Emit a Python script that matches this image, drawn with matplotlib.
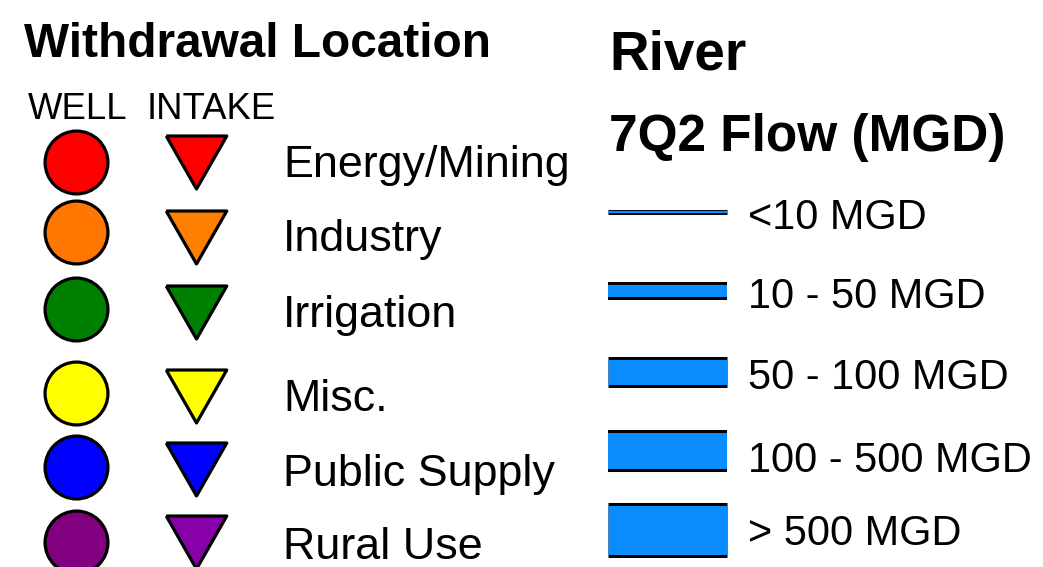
import matplotlib
matplotlib.use("Agg")
import matplotlib.pyplot as plt

plt.rcParams["font.family"] = ["Liberation Sans", "DejaVu Sans"]

# === Datos de la leyenda ===
usos = ["Energy/Mining", "Industry", "Irrigation", "Misc.", "Public Supply", "Rural Use"]
colores_pozo = ["#ff0000", "#ff7700", "#008000", "#ffff00", "#0000ff", "#800080"]
colores_toma = ["#ff0000", "#ff8000", "#008000", "#ffff00", "#0000ff", "#8800a8"]

clases_caudal = ["<10 MGD", "10 - 50 MGD", "50 - 100 MGD", "100 - 500 MGD", "> 500 MGD"]
grosor_rio = [5, 18, 31, 42, 55]  # alto de cada linea en pixeles

# === Posiciones (pixeles) ===
y_pozo = [162, 232, 309, 393, 467, 542]
y_toma = [162, 237, 312, 396, 469, 542]
y_texto_uso = [177, 251, 327, 411, 486, 559]
y_rio = [211.5, 291, 371.5, 451, 530]
y_texto_rio = [229, 308, 389, 472, 545]

AZUL_RIO = "#0b8cff"
PX = 0.72  # puntos por pixel a 100 dpi

fig = plt.figure(figsize=(10.43, 5.67), dpi=100)
ax = fig.add_axes([0, 0, 1, 1])
ax.set_xlim(0, 1043)
ax.set_ylim(567, 0)
ax.axis("off")

# Titulos
ax.text(24, 57, "Withdrawal Location", fontsize=34.4, fontweight="bold", va="baseline")
ax.text(28, 119, "WELL", fontsize=26.3, va="baseline")
ax.text(147, 119, "INTAKE", fontsize=26.3, va="baseline")
ax.text(609, 70, "River", fontsize=39.5, fontweight="bold", va="baseline")
ax.text(609, 151, "7Q2 Flow (MGD)", fontsize=37, fontweight="bold", va="baseline")

# Marcadores de pozo y toma
triangulo = [(-1, 0.875), (1, 0.875), (0, -0.875), (-1, 0.875)]
for i, uso in enumerate(usos):
    ax.scatter([76], [y_pozo[i]], s=2050, marker="o", color=colores_pozo[i],
               edgecolors="black", linewidths=2.3, zorder=3)
    ax.scatter([196], [y_toma[i]], s=1900, marker=triangulo, color=colores_toma[i],
               edgecolors="black", linewidths=2.3, zorder=3)
    ax.text(283, y_texto_uso[i], uso, fontsize=32.3, va="baseline")

# Lineas de rio
for i, clase in enumerate(clases_caudal):
    borde = 1.4 if grosor_rio[i] < 10 else 3.0
    ax.plot([608, 727], [y_rio[i], y_rio[i]], color="black",
            linewidth=grosor_rio[i] * PX, solid_capstyle="butt")
    ax.plot([608, 727], [y_rio[i], y_rio[i]], color=AZUL_RIO,
            linewidth=(grosor_rio[i] - 2 * borde) * PX, solid_capstyle="butt")
    ax.text(748, y_texto_rio[i], clase, fontsize=29.9, va="baseline")

plt.savefig("out.png", dpi=100)
